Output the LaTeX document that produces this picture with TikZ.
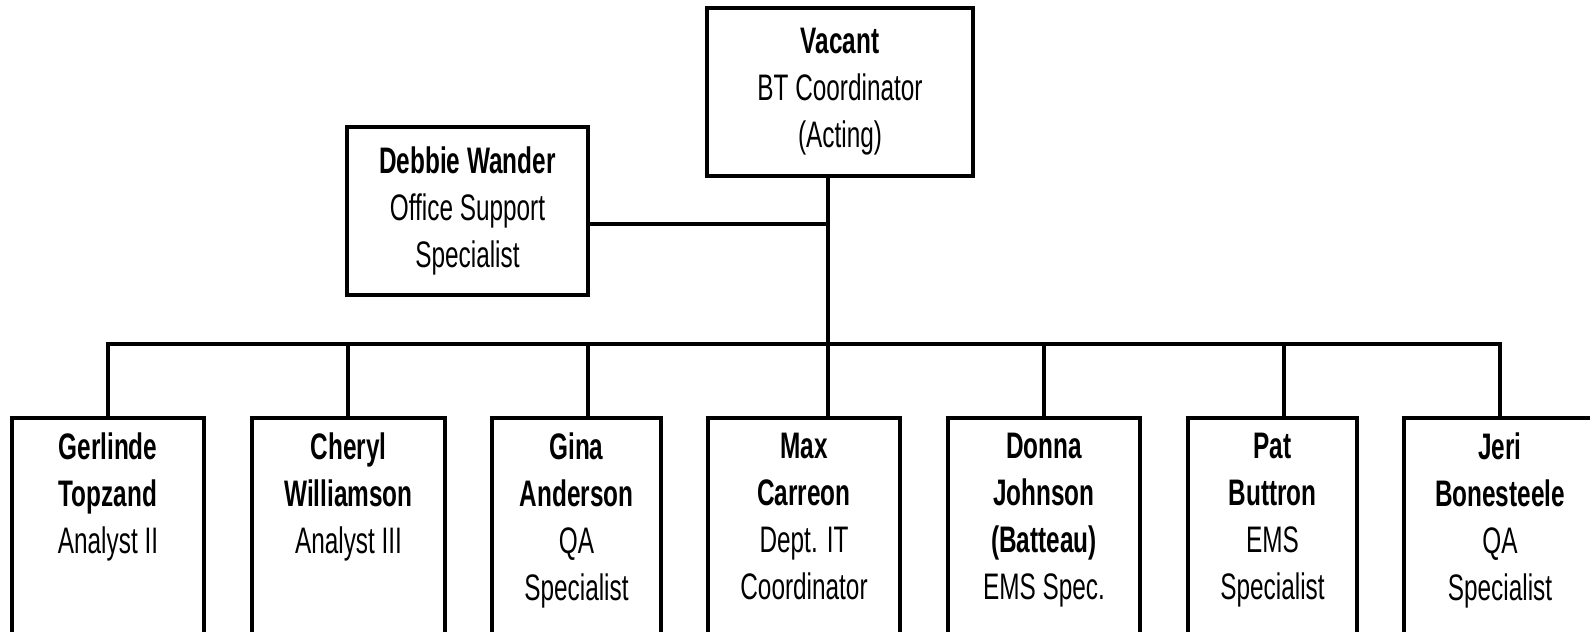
\documentclass[tikz,border=0pt]{standalone}
\usepackage{fontspec}
\setmainfont[FakeStretch=0.66]{Liberation Sans}
\usetikzlibrary{calc}

\begin{document}
\begin{tikzpicture}[
    box/.style={rectangle, draw, line width=0.035cm, align=center, inner sep=0pt,
        font=\fontsize{10.5}{13.4}\selectfont},
    head box/.style={box, minimum width=#1, minimum height=1.68cm},
    staff box/.style={box, anchor=north, minimum width=#1, inner ysep=0.15cm,
        text depth=2.6cm},
    link/.style={-, line width=0.035cm}
]

% Frame
\useasboundingbox (0,0) rectangle (15.90,-6.32);
\clip (0,0) rectangle (15.90,-6.32);

% Coordinator and office support
\node[head box=2.66cm] (V) at (8.40,-0.92) {\textbf{Vacant}\\BT Coordinator\\(Acting)};
\node[head box=2.41cm] (D) at (4.675,-2.11) {\textbf{Debbie Wander}\\Office Support\\Specialist};

% Staff
\node[staff box=1.92cm] (S1) at (1.08,-4.16) {\textbf{Gerlinde}\\\textbf{Topzand}\\Analyst II};
\node[staff box=1.93cm] (S2) at (3.485,-4.16) {\textbf{Cheryl}\\\textbf{Williamson}\\Analyst III};
\node[staff box=1.69cm] (S3) at (5.765,-4.16) {\textbf{Gina}\\\textbf{Anderson}\\QA\\Specialist};
\node[staff box=1.92cm] (S4) at (8.04,-4.16) {\textbf{Max}\\\textbf{Carreon}\\Dept. IT\\Coordinator};
\node[staff box=1.92cm] (S5) at (10.44,-4.16) {\textbf{Donna}\\\textbf{Johnson}\\\textbf{(Batteau)}\\EMS Spec.};
\node[staff box=1.69cm] (S6) at (12.725,-4.16) {\textbf{Pat}\\\textbf{Buttron}\\EMS\\Specialist};
\node[staff box=1.92cm] (S7) at (15.00,-4.16) {\textbf{Jeri}\\\textbf{Bonesteele}\\QA\\Specialist};

% Bus points
\coordinate (hub) at (8.28,-3.44);
\coordinate (side) at (8.28,-2.24);
\coordinate (b1) at (1.08,-3.44);
\coordinate (b2) at (3.48,-3.44);
\coordinate (b3) at (5.88,-3.44);
\coordinate (b5) at (10.44,-3.44);
\coordinate (b6) at (12.84,-3.44);
\coordinate (b7) at (15.00,-3.44);

% Connections
\draw[link] (hub |- V.south) -- (hub) -- (hub |- S4.north);
\draw[link] (side -| D.east) -- (side);
\draw[link] (b1 |- S1.north) -- (b1) -- (b7) -- (b7 |- S7.north);
\draw[link] (b2) -- (b2 |- S2.north);
\draw[link] (b3) -- (b3 |- S3.north);
\draw[link] (b5) -- (b5 |- S5.north);
\draw[link] (b6) -- (b6 |- S6.north);

\end{tikzpicture}
\end{document}
